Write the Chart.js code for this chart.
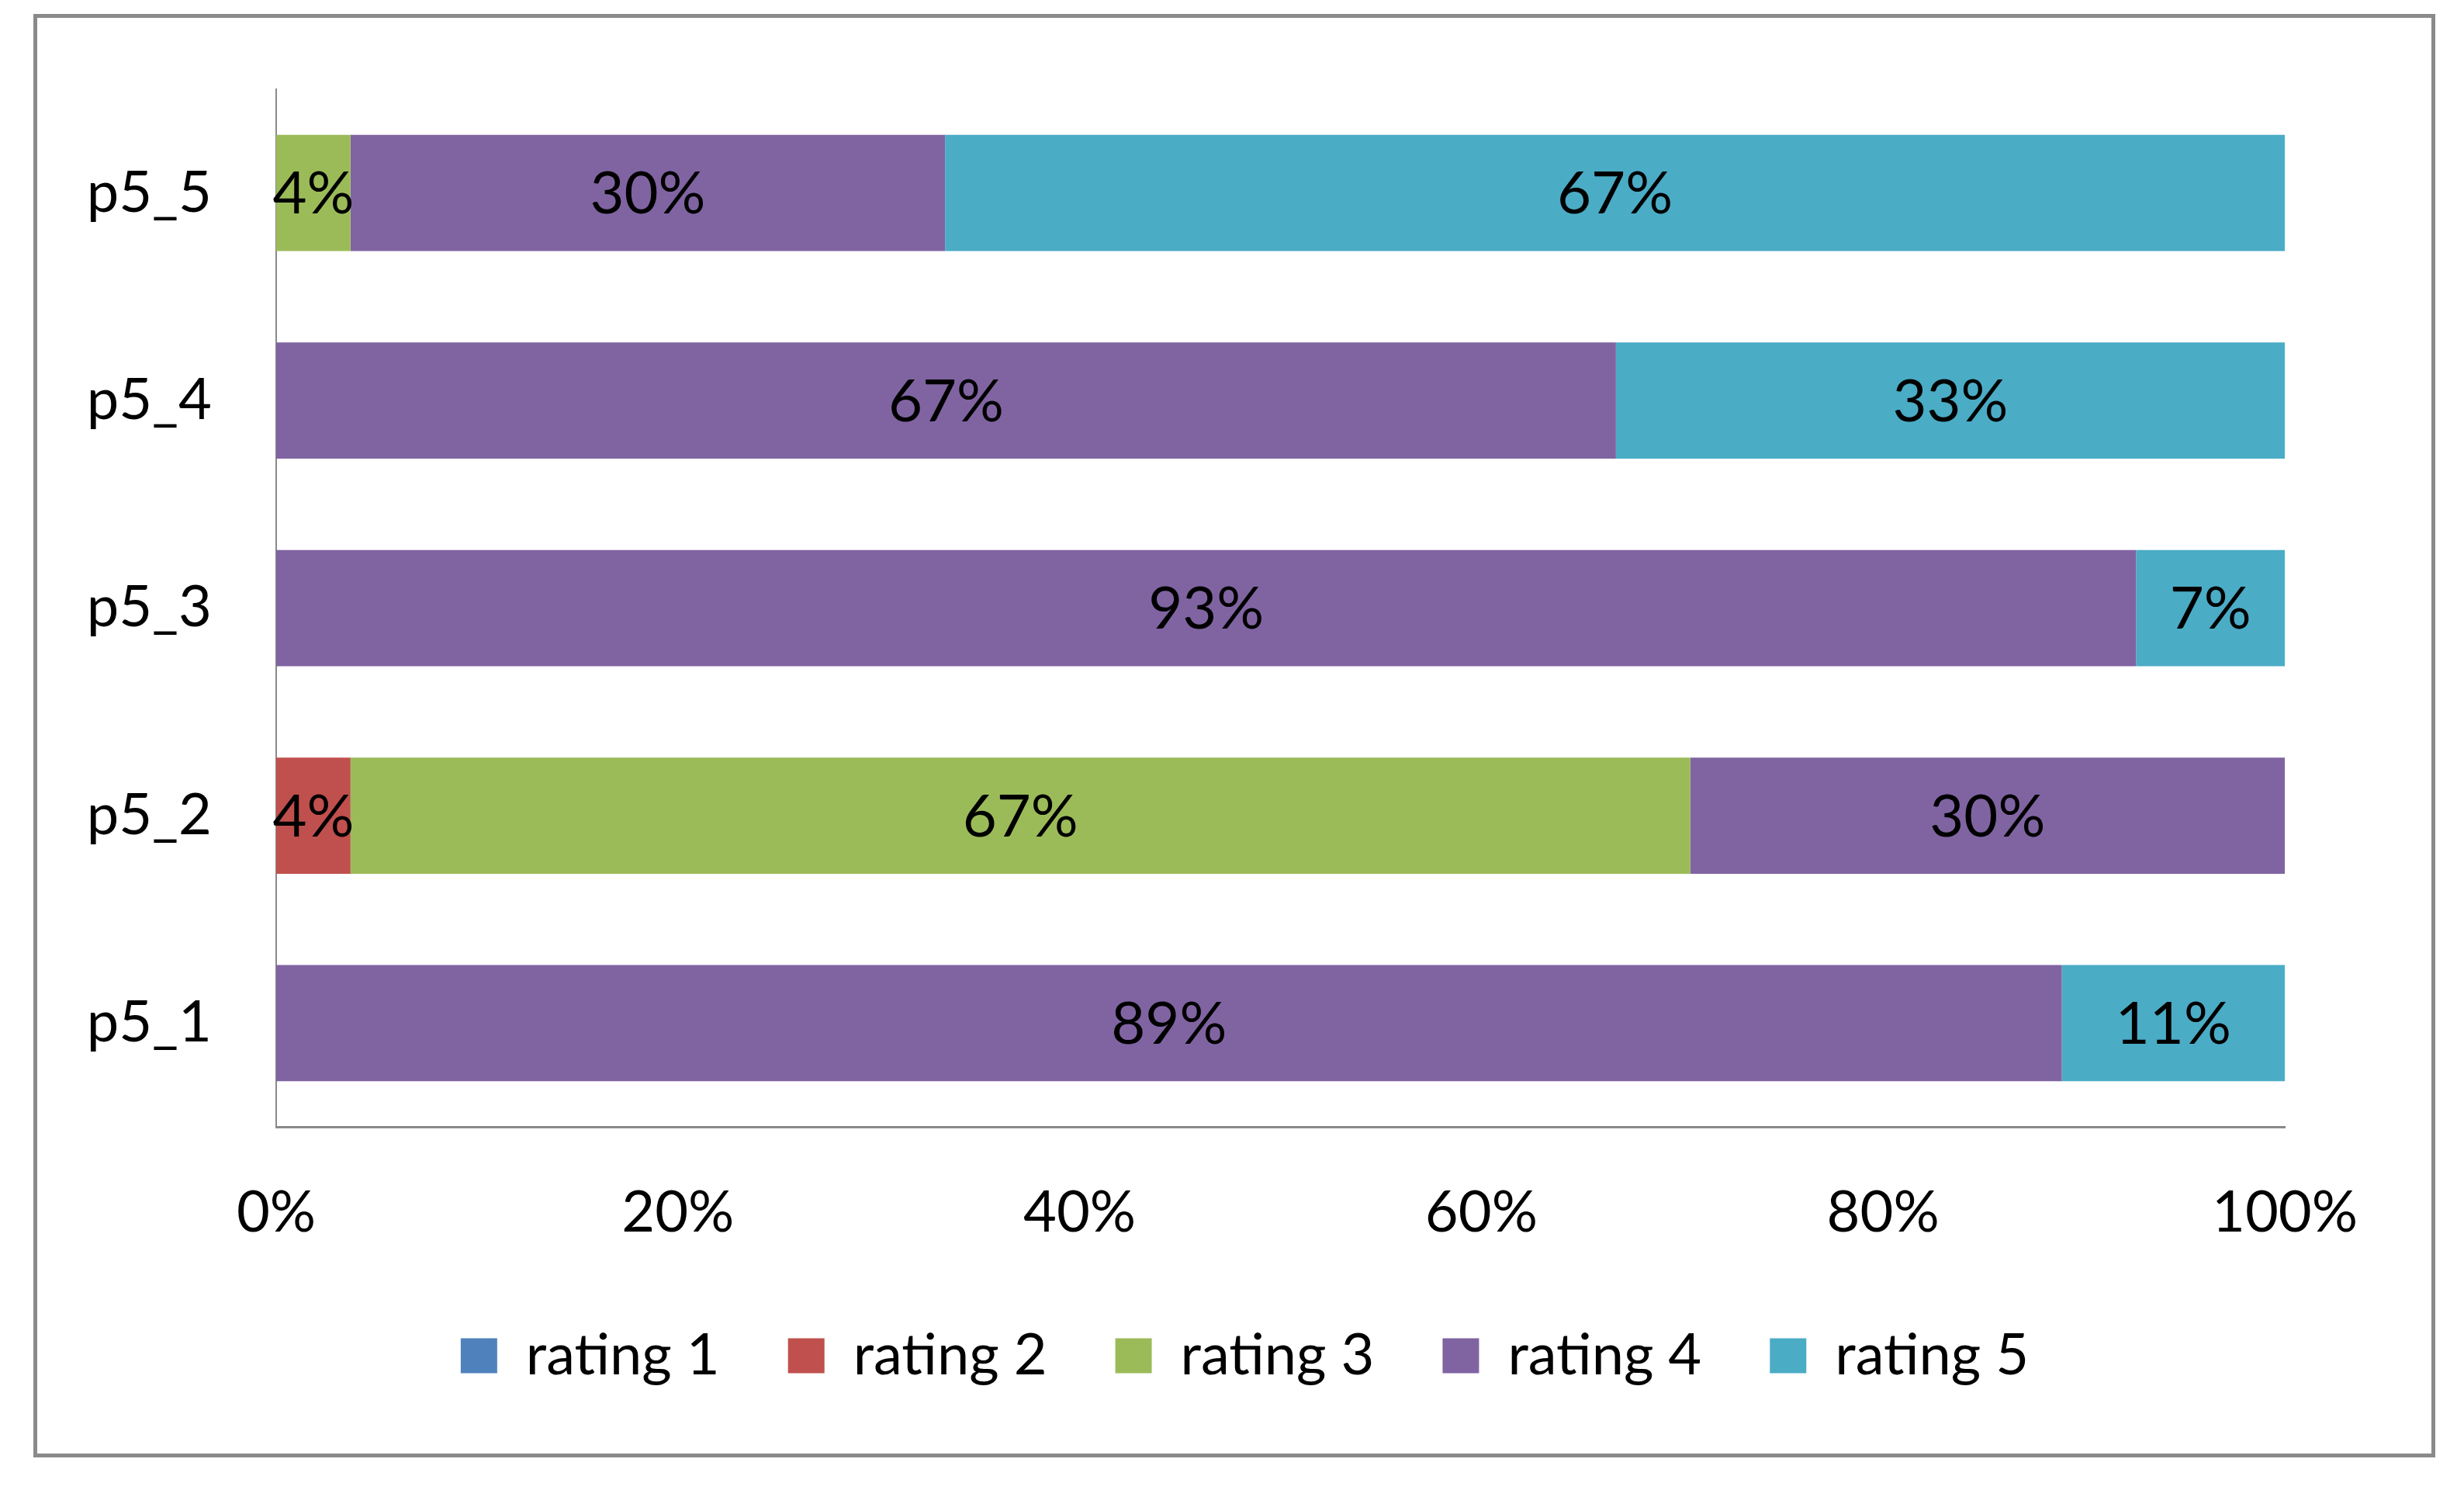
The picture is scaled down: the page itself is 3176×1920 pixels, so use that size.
<!DOCTYPE html>
<html>
<head>
<meta charset="utf-8">
<script src="https://cdn.jsdelivr.net/npm/chart.js@4/dist/chart.umd.min.js"></script>
<style>
  html, body { margin: 0; padding: 0; background: #fff; }
  #wrap { position: relative; width: 3176px; height: 1920px; }
  #frame {
    position: absolute; left: 43px; top: 18px; width: 3086px; height: 1850px;
    border: 5px solid #8a8a8a; pointer-events: none;
  }
</style>
</head>
<body>
<div id="wrap">
  <canvas id="grafico"></canvas>
  <div id="frame"></div>
</div>
<script>
// === DATOS ===
const categorias = ['p5_1', 'p5_2', 'p5_3', 'p5_4', 'p5_5'];
const rating1 = [0, 0, 0, 0, 0];
const rating2 = [0, 3.7, 0, 0, 0];
const rating3 = [0, 66.7, 0, 0, 3.7];
const rating4 = [88.9, 29.6, 92.6, 66.7, 29.6];
const rating5 = [11.1, 0, 7.4, 33.3, 66.7];
const ticksX = [0, 20, 40, 60, 80, 100];

const series = [
  { label: 'rating 1', data: rating1, color: '#4F81BD' },
  { label: 'rating 2', data: rating2, color: '#C0504D' },
  { label: 'rating 3', data: rating3, color: '#9BBB59' },
  { label: 'rating 4', data: rating4, color: '#8064A2' },
  { label: 'rating 5', data: rating5, color: '#4BACC6' }
];

Chart.defaults.font.family = 'Lato, "Open Sans", sans-serif';
Chart.defaults.font.size = 74;
Chart.defaults.color = '#000';

// etiquetas dentro de las barras
const etiquetas = {
  id: 'etiquetas',
  afterDatasetsDraw(chart) {
    const ctx = chart.ctx;
    ctx.save();
    ctx.font = '76px Lato, "Open Sans", sans-serif';
    ctx.fillStyle = '#000';
    ctx.textAlign = 'center';
    ctx.textBaseline = 'middle';
    chart.data.datasets.forEach((ds, i) => {
      chart.getDatasetMeta(i).data.forEach((bar, j) => {
        const v = ds.data[j];
        if (!v) return;
        const p = bar.getCenterPoint();
        ctx.fillText(Math.round(v) + '%', p.x, p.y + 2);
      });
    });
    ctx.restore();
  }
};

// la leyenda va un poco a la izquierda, como en el original
const moverLeyenda = {
  id: 'moverLeyenda',
  afterLayout(chart) {
    if (!chart.legend) return;
    chart.legend.left -= 46;
    chart.legend.right -= 46;
  }
};

const ctx = document.getElementById('grafico').getContext('2d');
new Chart(ctx, {
  type: 'bar',
  data: {
    labels: categorias,
    datasets: series.map(s => ({
      label: s.label,
      data: s.data,
      backgroundColor: s.color,
      borderWidth: 0,
      barPercentage: 0.56,
      categoryPercentage: 1
    }))
  },
  options: {
    indexAxis: 'y',
    responsive: true,
    maintainAspectRatio: false,
    animation: false,
    devicePixelRatio: 1,
    layout: { padding: { top: 115, right: 231, bottom: 126, left: 0 } },
    scales: {
      x: {
        stacked: true,
        min: 0,
        max: 100,
        afterBuildTicks: s => { s.ticks = ticksX.map(v => ({ value: v })); },
        ticks: { padding: 67, callback: v => v + '%' },
        grid: { display: false, drawTicks: false },
        border: { display: true, color: '#8a8a8a', width: 3 },
        afterFit: s => { s.paddingLeft = 0; s.paddingRight = 0; s.height -= 53; }
      },
      y: {
        stacked: true,
        reverse: true,
        ticks: { padding: 83 },
        grid: { display: false, drawTicks: false },
        border: { display: true, color: '#8a8a8a', width: 2 },
        afterFit: s => { s.width = 356; s.paddingTop = 0; s.paddingBottom = 0; }
      }
    },
    plugins: {
      legend: {
        position: 'bottom',
        fullSize: false,
        labels: { boxWidth: 47, boxHeight: 45, padding: 88, font: { size: 74 } }
      },
      tooltip: { enabled: false }
    }
  },
  plugins: [etiquetas, moverLeyenda]
});
</script>
</body>
</html>
